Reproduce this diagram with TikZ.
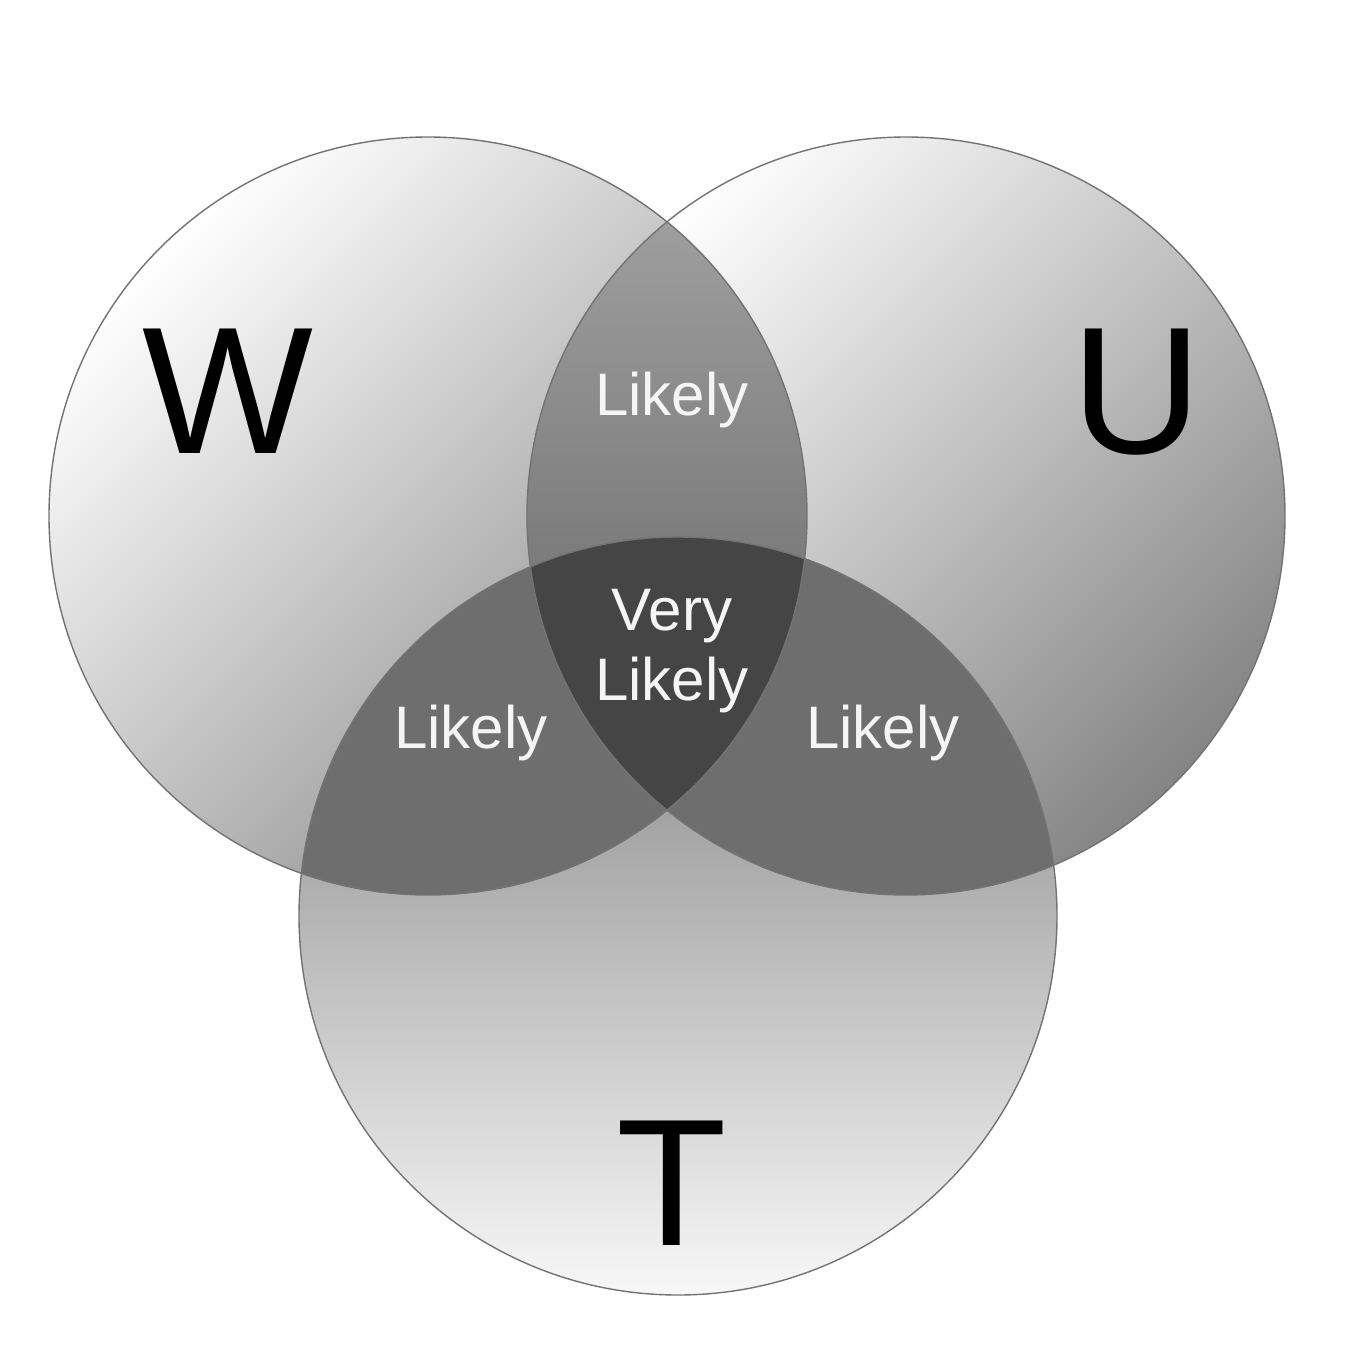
\documentclass[tikz,border=0pt]{standalone}
\usepackage{fontspec}
\setmainfont{Liberation Sans}
\begin{document}
\begin{tikzpicture}[x=1pt,y=-1pt,
  disc/.style={circle, minimum size=758pt, inner sep=0pt},
  rim/.style={circle, minimum size=758pt, inner sep=0pt, draw=black!55, line width=1.4pt},
  big/.style={anchor=base, inner sep=0pt, font=\fontsize{181}{181}\selectfont, text=black},
  small/.style={anchor=base, inner sep=0pt, font=\fontsize{60}{60}\selectfont, text=white!96!black}]
\useasboundingbox (0,0) rectangle (1350,1352);
\fill[white] (0,0) rectangle (1350,1352);
% base discs
\node[disc, shade, top color=white, bottom color=black!48, shading angle=45] (Wc) at (428,516) {};
\node[disc, shade, top color=white, bottom color=black!48, shading angle=45] (Uc) at (906,516) {};
\node[disc, shade, top color=black!55, bottom color=black!3] (Tc) at (678,916) {};
% W and U overlap
\begin{scope}
  \clip (Wc.center) circle[radius=379pt];
  \clip (Uc.center) circle[radius=379pt];
  \shade[top color=black!38, bottom color=black!53] (500,215) rectangle (840,600);
\end{scope}
% W and T overlap
\begin{scope}
  \clip (Wc.center) circle[radius=379pt];
  \fill[black!57] (Tc.center) circle[radius=379pt];
\end{scope}
% U and T overlap
\begin{scope}
  \clip (Uc.center) circle[radius=379pt];
  \fill[black!57] (Tc.center) circle[radius=379pt];
\end{scope}
% all three
\begin{scope}
  \clip (Wc.center) circle[radius=379pt];
  \clip (Uc.center) circle[radius=379pt];
  \fill[black!73] (Tc.center) circle[radius=379pt];
\end{scope}
\node[rim] (Wr) at (428,516) {};
\node[rim] (Ur) at (906,516) {};
\node[rim] (Tr) at (678,916) {};
\node[big] (W) at (228,453) {W};
\node[big] (U) at (1137,453) {U};
\node[big] (T) at (672,1245) {T};
\node[small] (l1) at (672,415) {Likely};
\node[small] (v1) at (672,630) {Very};
\node[small] (v2) at (672,700) {Likely};
\node[small] (l2) at (471,748) {Likely};
\node[small] (l3) at (883,748) {Likely};
\end{tikzpicture}
\end{document}
